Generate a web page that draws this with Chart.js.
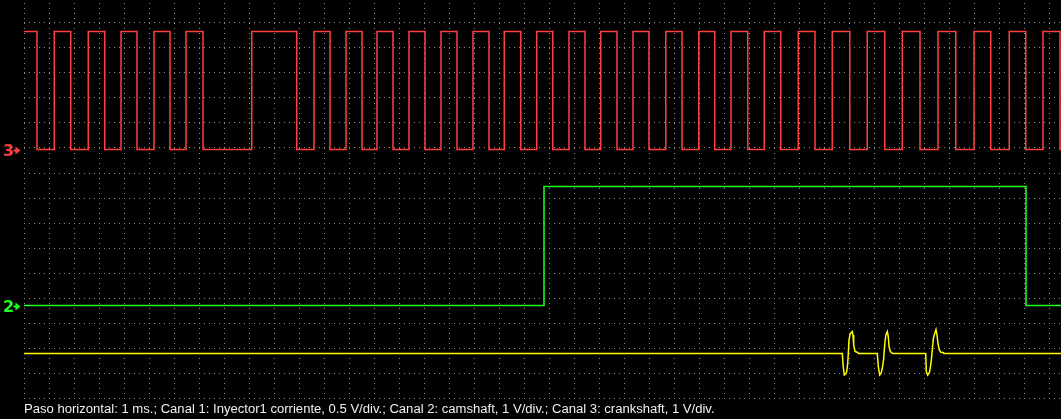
<!DOCTYPE html>
<html><head><meta charset="utf-8">
<script src="https://cdn.jsdelivr.net/npm/chart.js@4.4.1/dist/chart.umd.min.js"></script>
<style>html,body{margin:0;padding:0;background:#000;overflow:hidden}canvas{display:block}</style>
</head><body>
<canvas id="c" width="1061" height="419"></canvas>
<script>
// ---- text ----
const captionText = "Paso horizontal: 1 ms.; Canal 1: Inyector1 corriente, 0.5 V/div.; Canal 2: camshaft, 1 V/div.; Canal 3: crankshaft, 1 V/div.";
const channelLabels = ["1", "2", "3"];

// ---- grid (1 ms per horizontal division, 16 vertical divisions) ----
const timeGridMs = [0,1,2,3,4,5,6,7,8,9,10,11,12,13,14,15,16,17,18,19,20,21,22,23,24,25,26,27,28,29,30,31,32,33,34,35,36,37,38,39,40,41];
const divisionGrid = [0,1,2,3,4,5,6,7,8,9,10,11,12,13,14,15];

// ---- Canal 3: crankshaft (V), edges in ms, starts high ----
const crankEdgesMs = [0.52,1.21,1.87,2.57,3.23,3.88,4.52,5.20,5.84,6.48,7.16,9.11,10.91,11.60,12.24,12.88,13.52,14.12,14.76,15.40,16.04,16.68,17.32,17.96,18.60,19.21,19.87,20.51,21.15,21.80,22.44,23.07,23.72,24.36,25.00,25.67,26.32,26.99,27.63,28.28,28.95,29.61,30.27,30.97,31.64,32.33,33.03,33.73,34.43,35.13,35.84,36.56,37.27,38.00,38.67,39.41,40.07,40.76,41.44];
const crankLevelsV = [4.72, 0.0]; // high, low

// ---- Canal 2: camshaft (V) ----
const camEdgesMs = [20.80, 40.08];
const camLevelsV = [0.0, 4.76]; // low, high

// ---- Canal 1: Inyector1 corriente (V) ----
const injectorTimeMs = [0,
  32.732,32.772,32.812,32.868,32.908,32.948,32.972,33.000,33.040,33.092,33.132,33.160,33.188,33.240,33.348,33.380,
  34.132,34.172,34.228,34.280,34.332,34.388,34.412,34.440,34.480,34.532,34.572,34.600,34.652,34.748,
  36.068,36.092,36.148,36.228,36.268,36.308,36.332,36.372,36.428,36.480,36.520,36.560,36.612,36.680,36.772,36.800,
  41.48];
const injectorV = [0,
  0,-0.28,-0.43,-0.41,-0.36,-0.20,0.00,0.27,0.38,0.42,0.44,0.37,0.17,0.04,0.02,0,
  0,-0.26,-0.43,-0.40,-0.30,-0.10,0.07,0.24,0.38,0.44,0.34,0.14,0.04,0,
  0,-0.36,-0.43,-0.36,-0.23,-0.06,0.07,0.30,0.40,0.48,0.37,0.20,0.07,0.02,0.02,0,
  0];

// ---- scope settings ----
const timeSpanMs = 41.48;
const divSpan = 15.92;
const voltsPerDiv = {y1: 0.5, y2: 1, y3: 1};
const groundDiv = {y1: 1.78, y2: 3.70, y3: 9.94};

function edgesToPoints(edges, levels, end) {
  const pts = [];
  let lvl = 0;
  pts.push({x: 0, y: levels[lvl]});
  for (const t of edges) {
    pts.push({x: t, y: levels[lvl]});
    lvl = 1 - lvl;
    pts.push({x: t, y: levels[lvl]});
  }
  pts.push({x: end, y: levels[lvl]});
  return pts;
}
const crankPts = edgesToPoints(crankEdgesMs, crankLevelsV, timeSpanMs);
const camPts = edgesToPoints(camEdgesMs, camLevelsV, timeSpanMs);
const injPts = injectorTimeMs.map((t, i) => ({x: t, y: injectorV[i]}));

function chanAxis(id) {
  return {
    type: 'linear', display: false,
    min: -groundDiv[id] * voltsPerDiv[id],
    max: (divSpan - groundDiv[id]) * voltsPerDiv[id]
  };
}

// caption font size fitted to the reference width
const mc = document.createElement('canvas').getContext('2d');
mc.font = '12px "Liberation Sans"';
const capSize = 12 * 691 / mc.measureText(captionText).width;

const markerPlugin = {
  id: 'channelMarkers',
  afterDraw(chart) {
    const ctx = chart.ctx;
    const marks = [{axis: 'y3', label: channelLabels[2], color: '#ff4040'},
                   {axis: 'y2', label: channelLabels[1], color: '#20ff20'}];
    ctx.save();
    for (const m of marks) {
      const y = chart.scales[m.axis].getPixelForValue(0) + 1;
      ctx.fillStyle = m.color;
      ctx.font = 'bold 16px "DejaVu Sans"';
      ctx.textBaseline = 'alphabetic';
      ctx.textAlign = 'left';
      ctx.fillText(m.label, 3, y + 5.5);
      ctx.fillRect(13.5, y - 1, 3, 2);
      ctx.beginPath();
      ctx.moveTo(15.5, y - 4); ctx.lineTo(20.5, y); ctx.lineTo(15.5, y + 4); ctx.closePath();
      ctx.fill();
    }
    ctx.restore();
  }
};

const gridStyle = (offset) => ({
  display: true,
  grid: {display: true, color: '#8c8c8c', lineWidth: 1, drawTicks: false, drawOnChartArea: true},
  border: {display: false, dash: [1, 4], dashOffset: offset},
  ticks: {display: false}
});

new Chart(document.getElementById('c'), {
  type: 'line',
  data: {
    datasets: [
      {label: 'Canal 1', data: injPts, yAxisID: 'y1', borderColor: '#ffff00', borderWidth: 1.5, pointRadius: 0, tension: 0},
      {label: 'Canal 2', data: camPts, yAxisID: 'y2', borderColor: '#20ff20', borderWidth: 1.5, pointRadius: 0, tension: 0},
      {label: 'Canal 3', data: crankPts, yAxisID: 'y3', borderColor: '#ff4040', borderWidth: 1.5, pointRadius: 0, tension: 0}
    ]
  },
  options: {
    responsive: false, animation: false, devicePixelRatio: 1,
    layout: {padding: {left: 24, right: 0, top: 0, bottom: 0}},
    plugins: {
      legend: {display: false}, tooltip: {enabled: false},
      title: {display: true, text: captionText, position: 'bottom', align: 'start', color: '#f0f0f0',
              font: {family: '"Liberation Sans", Arial, sans-serif', size: capSize, weight: 'normal', lineHeight: '15px'},
              padding: {top: 4, bottom: 2}}
    },
    scales: {
      x: Object.assign(gridStyle(2), {type: 'linear', min: 0, max: timeSpanMs,
          afterBuildTicks: s => { s.ticks = timeGridMs.map(v => ({value: v})); }}),
      y: Object.assign(gridStyle(0), {type: 'linear', min: 0, max: divSpan, position: 'left',
          afterBuildTicks: s => { s.ticks = divisionGrid.map(v => ({value: v})); }}),
      y1: chanAxis('y1'), y2: chanAxis('y2'), y3: chanAxis('y3')
    }
  },
  plugins: [markerPlugin]
});
</script>
</body></html>
